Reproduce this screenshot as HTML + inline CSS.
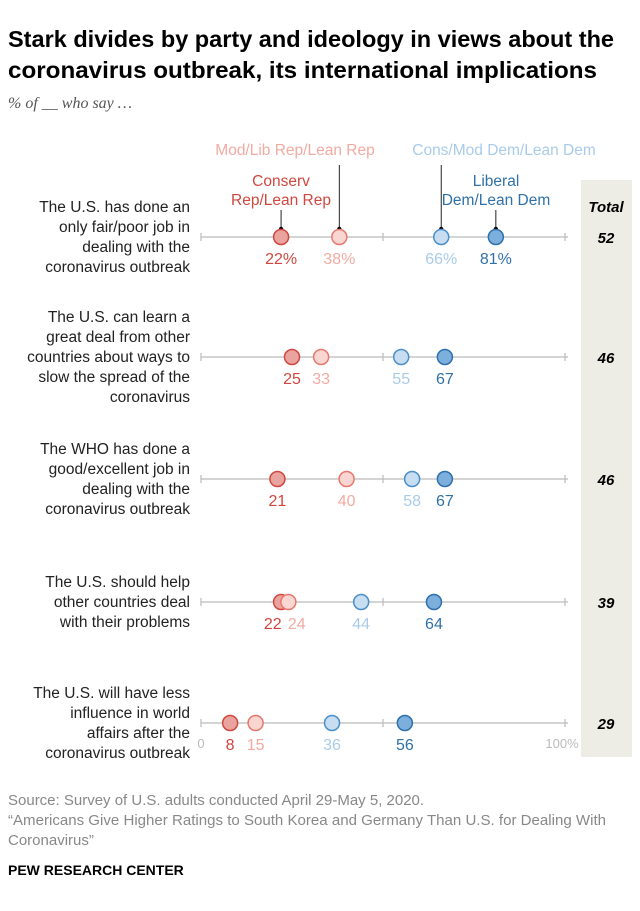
<!DOCTYPE html>
<html><head><meta charset="utf-8"><style>
body{margin:0;background:#fff;font-family:"Liberation Sans",sans-serif;}
svg text{font-family:"Liberation Sans",sans-serif;}
</style></head><body>
<svg width="640" height="906" viewBox="0 0 640 906" xmlns="http://www.w3.org/2000/svg">
<text x="8" y="47" font-size="23" font-weight="bold" fill="#000" textLength="606" lengthAdjust="spacingAndGlyphs">Stark divides by party and ideology in views about the</text>
<text x="8" y="78" font-size="23" font-weight="bold" fill="#000" textLength="589" lengthAdjust="spacingAndGlyphs">coronavirus outbreak, its international implications</text>
<text x="8" y="108" font-size="16" font-style="italic" fill="#555" style="font-family:'Liberation Serif',serif">% of __ who say …</text>
<rect x="581" y="180" width="51" height="577" fill="#eeede5"/>
<text x="606" y="212" font-size="15" font-weight="bold" font-style="italic" text-anchor="middle" fill="#000">Total</text>
<g font-size="15.5" text-anchor="middle">
<text x="295" y="155" fill="#f2aaa2">Mod/Lib Rep/Lean Rep</text>
<text x="504" y="155" fill="#a9cbe9">Cons/Mod Dem/Lean Dem</text>
<text x="281" y="186" fill="#d0473f">Conserv</text>
<text x="281" y="205" fill="#d0473f">Rep/Lean Rep</text>
<text x="496" y="186" fill="#3071a8">Liberal</text>
<text x="496" y="205" fill="#3071a8">Dem/Lean Dem</text>
</g>
<g id="plot"></g>
<text x="8" y="805" font-size="15" fill="#888">Source: Survey of U.S. adults conducted April 29-May 5, 2020.</text>
<text x="8" y="825" font-size="15" fill="#888" textLength="598" lengthAdjust="spacingAndGlyphs">“Americans Give Higher Ratings to South Korea and Germany Than U.S. for Dealing With</text>
<text x="8" y="845" font-size="15" fill="#888">Coronavirus”</text>
<text x="8" y="875" font-size="14" font-weight="bold" fill="#000">PEW RESEARCH CENTER</text>
</svg>
<script>
const questions=[
["The U.S. has done an","only fair/poor job in","dealing with the","coronavirus outbreak"],
["The U.S. can learn a","great deal from other","countries about ways to","slow the spread of the","coronavirus"],
["The WHO has done a","good/excellent job in","dealing with the","coronavirus outbreak"],
["The U.S. should help","other countries deal","with their problems"],
["The U.S. will have less","influence in world","affairs after the","coronavirus outbreak"]
];
const conservRep=[22,25,21,22,8];
const modLibRep=[38,33,40,24,15];
const consModDem=[66,55,58,44,36];
const liberalDem=[81,67,67,64,56];
const totals=[52,46,46,39,29];
const rowY=[237,357,479,602,723];
const NS="http://www.w3.org/2000/svg";
const x0=201,x1=565;
function xs(v){return x0+(x1-x0)*v/100;}
const g=document.getElementById('plot');
function mk(t,a,p){const e=document.createElementNS(NS,t);for(const k in a)e.setAttribute(k,a[k]);(p||g).appendChild(e);return e;}
const series=[
{d:conservRep,stroke:"#d0473f",fill:"#eaa49f",lab:"#d0473f",n:"conserv-rep"},
{d:modLibRep,stroke:"#e8786e",fill:"#f9d6d1",lab:"#f2aaa2",n:"mod-lib-rep"},
{d:consModDem,stroke:"#4a8fc9",fill:"#c7ddf1",lab:"#a9cbe9",n:"cons-mod-dem"},
{d:liberalDem,stroke:"#2e70ad",fill:"#7dafdd",lab:"#3071a8",n:"liberal-dem"}];
questions.forEach((q,i)=>{
  const y=rowY[i];
  const n=q.length, lh=20, start=y-(n-1)*lh/2+5;
  q.forEach((l,j)=>{const t=mk('text',{x:190,y:start+j*lh,'font-size':15.5,'text-anchor':'end',fill:'#222'});t.textContent=l;
    
    });
  const ln=mk('line',{x1:x0,x2:x1+3,y1:y,y2:y,stroke:'#bbb','stroke-width':1.2});
  
  
  [0,50,100].forEach(v=>{const tk=mk('line',{x1:xs(v),x2:xs(v),y1:y-4,y2:y+4,stroke:'#bbb','stroke-width':1.2});
    
    });
  if(i===0){
    [[0,210],[1,165],[2,165],[3,210]].forEach(([s,top])=>{
      const v=series[s].d[0];
      const c=mk('line',{x1:xs(v),x2:xs(v),y1:top,y2:y-7,stroke:'#222','stroke-width':1});
      
      
      const dd=mk('circle',{cx:xs(v),cy:y-8,r:2.2,fill:'#000'});
      
      
    });
  }
  series.forEach(s=>{
    const v=s.d[i];
    const c=mk('circle',{cx:xs(v),cy:y,r:7.5,fill:s.fill,stroke:s.stroke,'stroke-width':1.5});
    
    
  });
  const lx=series.map(s=>xs(s.d[i]));
  for(let k=1;k<lx.length;k++){
    if(lx[k]-lx[k-1]<24){const m=(lx[k]+lx[k-1])/2;lx[k-1]=m-12;lx[k]=m+12;}
  }
  series.forEach((s,k)=>{
    const v=s.d[i];
    const t=mk('text',{x:lx[k],y:y+27,'font-size':16,'text-anchor':'middle',fill:s.lab});
    t.textContent=v+(i===0?'%':'');
    
    
  });
  const tt=mk('text',{x:606,y:y+6,'font-size':15,'font-weight':'bold','font-style':'italic','text-anchor':'middle',fill:'#000'});
  tt.textContent=totals[i];
  
  
});
const a0=mk('text',{x:xs(0),y:748,'font-size':13,'text-anchor':'middle',fill:'#bbb'});a0.textContent='0';


const a1=mk('text',{x:xs(100)-3,y:748,'font-size':13,'text-anchor':'middle',fill:'#bbb'});a1.textContent='100%';


</script>
</body></html>
